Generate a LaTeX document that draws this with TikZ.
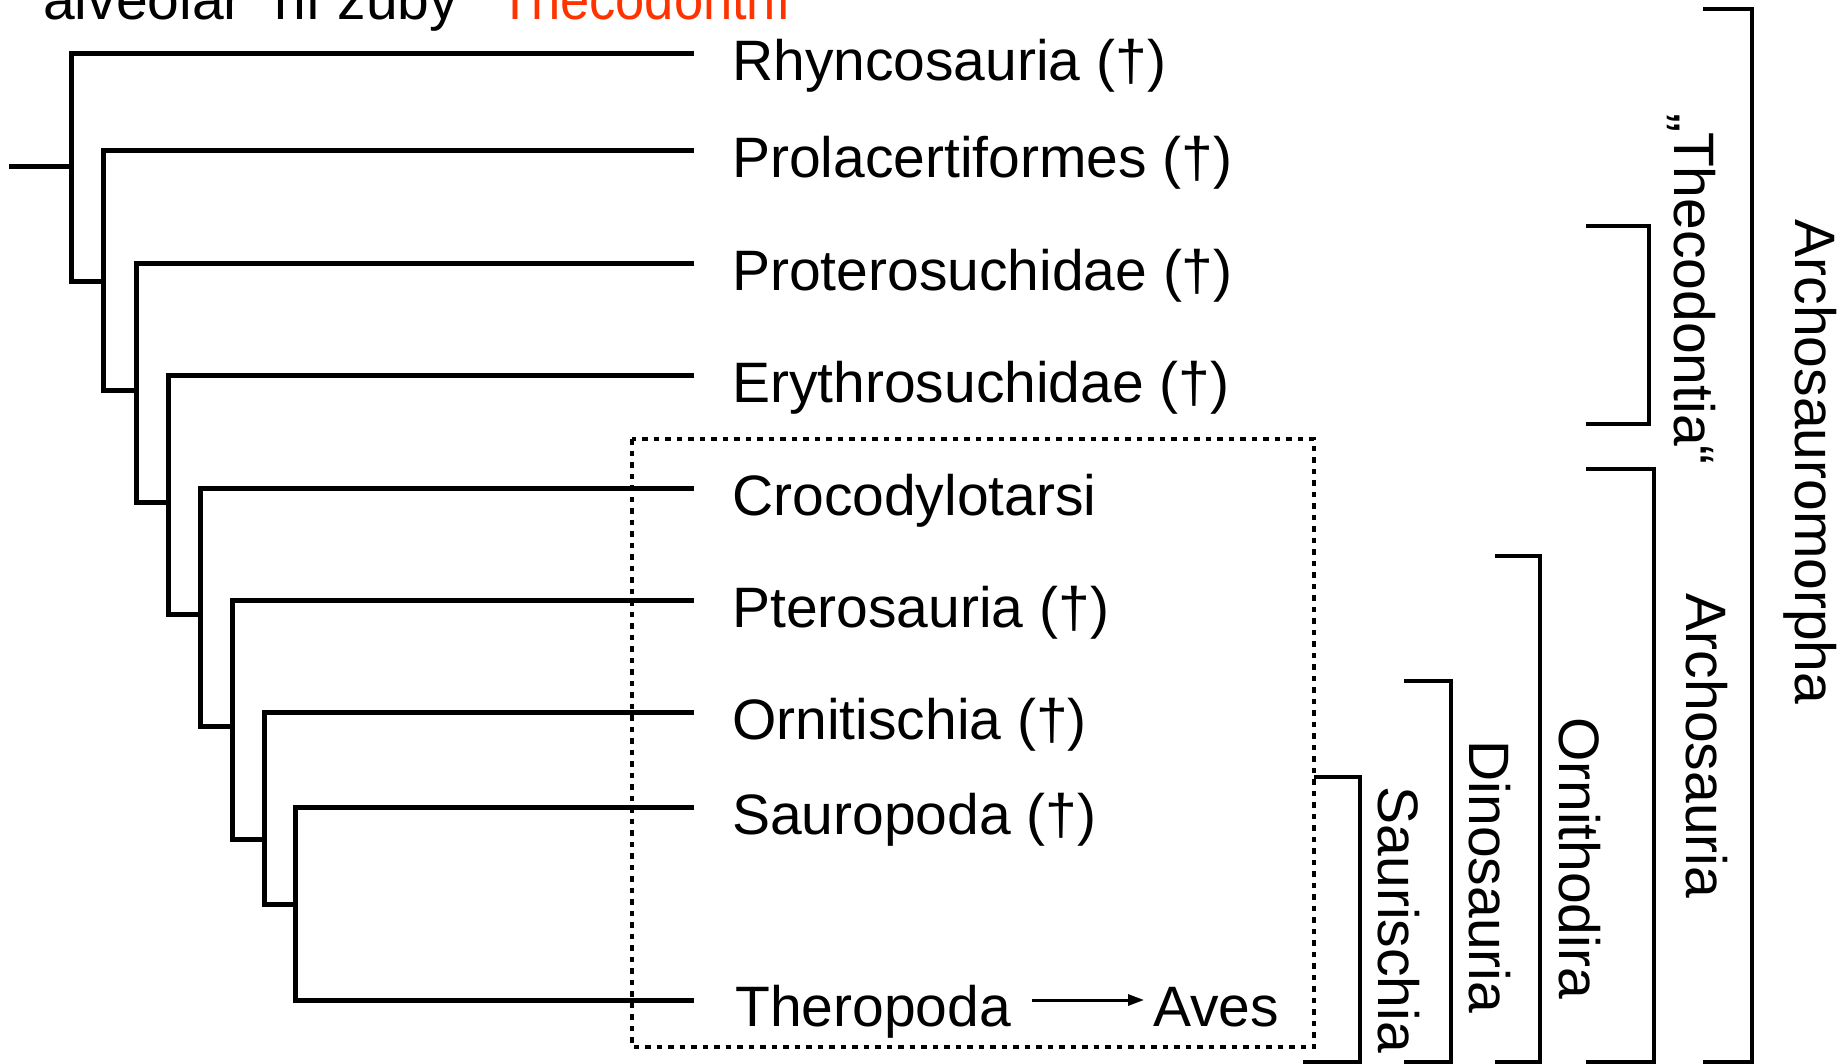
\documentclass[tikz,border=0pt]{standalone}
\usepackage{fontspec}
\setmainfont{Liberation Sans}
\usetikzlibrary{arrows.meta}
\definecolor{thecred}{RGB}{255,51,0}
\begin{document}
\begin{tikzpicture}[x=1pt,y=-1pt,
  branch/.style={line width=5pt, line join=miter},
  bracket/.style={line width=4.6pt, line join=miter},
  taxon/.style={inner sep=0pt, anchor=base west, font=\fontsize{57}{68}\selectfont},
  clade/.style={inner sep=0pt, anchor=base, rotate=-90, font=\fontsize{57}{68}\selectfont},
  toptext/.style={inner sep=0pt, anchor=base west, font=\fontsize{57}{68}\selectfont},
  dotbox/.style={line width=4.4pt, dash pattern=on 5.5pt off 6pt},
  evo/.style={line width=3pt, -{Triangle[length=16pt,width=11pt]}}
]
\useasboundingbox (0,0) rectangle (1845,1064);
\clip (0,0) rectangle (1845,1064);

% top text (cut off)
\node[toptext] (t1) at (43,20) {alveolár};
\node[toptext] (t2) at (274,20) {ní zuby};
\node[toptext, text=thecred, xscale=0.92] (t3) at (499,20) {Thecodontní};

% leaf tips
\coordinate (tip1) at (694,54);
\coordinate (tip2) at (694,151);
\coordinate (tip3) at (694,264);
\coordinate (tip4) at (694,376);
\coordinate (tip5) at (694,488);
\coordinate (tip6) at (694,600);
\coordinate (tip7) at (694,712);
\coordinate (tip8) at (694,807);
\coordinate (tip9) at (694,1000);

% internal verticals: top and bottom
\coordinate (root) at (9,167);
\coordinate (a1) at (71,54);    \coordinate (b1) at (71,282);  \coordinate (r1) at (71,167);
\coordinate (a2) at (103.5,151); \coordinate (b2) at (103.5,391); \coordinate (m2) at (103.5,282);
\coordinate (a3) at (136,264);  \coordinate (b3) at (136,502);  \coordinate (m3) at (136,391);
\coordinate (a4) at (168,376);  \coordinate (b4) at (168,614);  \coordinate (m4) at (168,502);
\coordinate (a5) at (200,488);  \coordinate (b5) at (200,726);  \coordinate (m5) at (200,614);
\coordinate (a6) at (232,600);  \coordinate (b6) at (232,839);  \coordinate (m6) at (232,726);
\coordinate (a7) at (264,712);  \coordinate (b7) at (264,904);  \coordinate (m7) at (264,839);
\coordinate (a8) at (295.5,807); \coordinate (b8) at (295.5,1000); \coordinate (m8) at (295.5,904);

\draw[branch] (root) -- (r1);
\draw[branch] (tip1) -- (a1) -- (b1) -- (m2);
\draw[branch] (tip2) -- (a2) -- (b2) -- (m3);
\draw[branch] (tip3) -- (a3) -- (b3) -- (m4);
\draw[branch] (tip4) -- (a4) -- (b4) -- (m5);
\draw[branch] (tip5) -- (a5) -- (b5) -- (m6);
\draw[branch] (tip6) -- (a6) -- (b6) -- (m7);
\draw[branch] (tip7) -- (a7) -- (b7) -- (m8);
\draw[branch] (tip8) -- (a8) -- (b8) -- (tip9);

% leaf labels
\node[taxon] (rhy) at (732,81) {Rhyncosauria (†)};
\node[taxon] (pro) at (732,178) {Prolacertiformes (†)};
\node[taxon] (prt) at (732,291) {Proterosuchidae (†)};
\node[taxon] (ery) at (732,403) {Erythrosuchidae (†)};
\node[taxon] (cro) at (732,515) {Crocodylotarsi};
\node[taxon] (pte) at (732,627) {Pterosauria (†)};
\node[taxon] (orn) at (732,739) {Ornitischia (†)};
\node[taxon] (sau) at (732,834) {Sauropoda (†)};
\node[taxon] (the) at (735,1026) {Theropoda};
\node[taxon] (ave) at (1153,1026) {Aves};
\coordinate (arrS) at (1032,1000);
\draw[evo, shorten >=9pt] (arrS) -- (ave.west |- arrS);

% dotted box
\coordinate (boxA) at (632,439);
\coordinate (boxB) at (1314,1047);
\draw[dotbox] (boxA) rectangle (boxB);

% brackets
\draw[bracket] (1586,226) -- (1649,226) -- (1649,424) -- (1586,424);
\draw[bracket] (1703,9) -- (1752,9) -- (1752,1062) -- (1703,1062);
\draw[bracket] (1586,469) -- (1654,469) -- (1654,1062) -- (1586,1062);
\draw[bracket] (1495,556) -- (1540,556) -- (1540,1062) -- (1495,1062);
\draw[bracket] (1404,681) -- (1451,681) -- (1451,1062) -- (1404,1062);
\draw[bracket] (1314,777) -- (1360,777) -- (1360,1062) -- (1303,1062);

% clade labels
\node[clade] (thec) at (1674,289) {„Thecodontia“};
\node[clade] (arm) at (1795,462) {Archosauromorpha};
\node[clade] (arc) at (1686,746) {Archosauria};
\node[clade] (ort) at (1559,858) {Ornithodira};
\node[clade] (din) at (1469,877) {Dinosauria};
\node[clade] (sac) at (1378,920) {Saurischia};
\end{tikzpicture}
\end{document}
